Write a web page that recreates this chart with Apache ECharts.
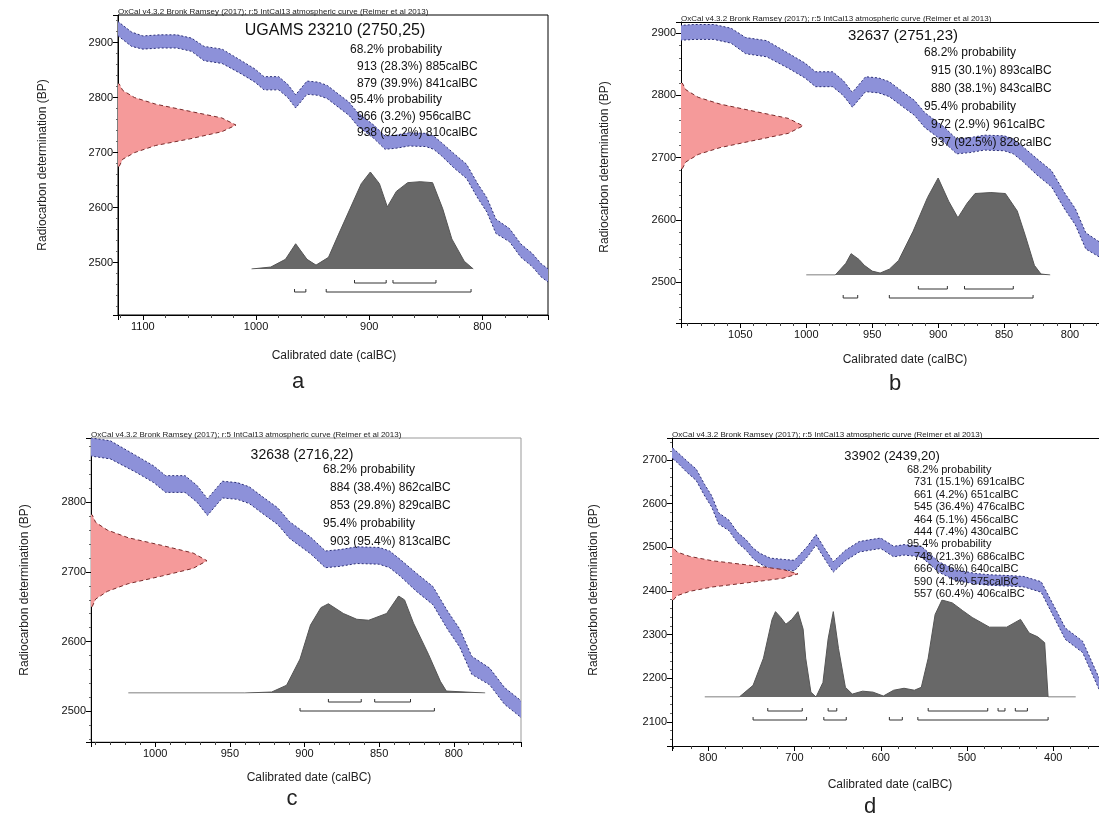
<!DOCTYPE html>
<html><head><meta charset="utf-8">
<script src="https://cdn.jsdelivr.net/npm/echarts@6/dist/echarts.min.js"></script>
<style>html,body{margin:0;padding:0;background:#fff}#c{width:1099px;height:819px}</style>
</head><body><div id="c"></div>
<script>
// ---------- shared calibration curve (IntCal13 band) ----------
const curveYears = [1125,1110,1100,1085,1070,1057,1046,1030,1013,1001,993,980,972,965,955,945,937,927,918,910,896,886,876,865,850,843,836,825,814,804,796,788,776,766,756,748,740,728,712,700,685,675,665,655,641,625,610,600,585,573,553,533,513,490,474,450,434,414,398,386,366,347,320,300];
const curveBP    = [2930,2906,2900,2902,2902,2896,2880,2875,2855,2840,2826,2826,2812,2793,2818,2816,2810,2794,2780,2760,2738,2718,2720,2724,2723,2718,2706,2685,2666,2630,2605,2566,2550,2522,2505,2486,2474,2463,2460,2458,2490,2517,2485,2455,2481,2501,2506,2509,2490,2494,2490,2455,2436,2428,2425,2423,2421,2409,2348,2302,2272,2188,2150,2130];
const curveSigma = [13,13,12,12,12,12,13,13,12,12,12,12,12,12,12,12,12,12,12,12,12,12,12,12,12,12,12,13,13,13,13,13,12,12,12,12,12,12,12,12,12,12,12,12,12,12,12,12,12,12,12,12,12,12,12,12,12,12,13,13,13,13,13,13];

// ---------- panel a ----------
const titleA = 'UGAMS 23210 (2750,25)';
const textA = ['68.2% probability','913 (28.3%) 885calBC','879 (39.9%) 841calBC','95.4% probability','966 (3.2%) 956calBC','938 (92.2%) 810calBC'];
const redBPA   = [2675,2688,2700,2713,2725,2738,2750,2763,2775,2788,2800,2813,2825];
const redDensA = [0.01,0.04,0.14,0.32,0.61,0.88,1,0.88,0.61,0.32,0.14,0.04,0.01];
const probYearsA = [1004,987,974,965,955,947,936,927,917,907,899,891,884,876,866,855,844,835,827,816,808];
const probA      = [0,2,10,26,10,4,12,36,62,88,100,88,64,80,89,90,89,62,31,8,0];
const range68A = [[913,885],[879,841]];
const range95A = [[966,956],[938,810]];

// ---------- panel b ----------
const titleB = '32637 (2751,23)';
const textB = ['68.2% probability','915 (30.1%) 893calBC','880 (38.1%) 843calBC','95.4% probability','972 (2.9%) 961calBC','937 (92.5%) 828calBC'];
const redBPB   = [2682,2693,2705,2716,2728,2739,2751,2763,2774,2786,2797,2809,2820];
const redDensB = [0.01,0.04,0.14,0.32,0.61,0.88,1,0.88,0.61,0.32,0.14,0.04,0.01];
const probYearsB = [1000,978,970,966,960,956,950,944,937,930,919,908,900,892,885,878,872,860,849,840,834,827,822,815];
const probB      = [0,0,12,22,16,10,4,2,6,15,45,80,100,76,59,74,84,85,84,66,41,10,1,0];
const range68B = [[915,893],[880,843]];
const range95B = [[972,961],[937,828]];

// ---------- panel c ----------
const titleC = '32638 (2716,22)';
const textC = ['68.2% probability','884 (38.4%) 862calBC','853 (29.8%) 829calBC','95.4% probability','903 (95.4%) 813calBC'];
const redBPC   = [2650,2661,2672,2683,2694,2705,2716,2727,2738,2749,2760,2771,2782];
const redDensC = [0.01,0.04,0.14,0.32,0.61,0.88,1,0.88,0.61,0.32,0.14,0.04,0.01];
const probYearsC = [1018,940,922,912,903,896,889,884,874,865,857,845,837,833,827,817,809,805,779];
const probC      = [0,0,1,8,35,70,88,92,82,76,75,82,100,96,72,40,12,2,0];
const range68C = [[884,862],[853,829]];
const range95C = [[903,813]];

// ---------- panel d ----------
const titleD = '33902 (2439,20)';
const textD = ['68.2% probability','731 (15.1%) 691calBC','661 (4.2%) 651calBC','545 (36.4%) 476calBC','464 (5.1%) 456calBC','444 (7.4%) 430calBC','95.4% probability','748 (21.3%) 686calBC','666 (9.6%) 640calBC','590 (4.1%) 575calBC','557 (60.4%) 406calBC'];
const redBPD   = [2379,2389,2399,2409,2419,2429,2439,2449,2459,2469,2479,2489,2499];
const redDensD = [0.01,0.04,0.14,0.32,0.61,0.88,1,0.88,0.61,0.32,0.14,0.04,0.01];
const probYearsD = [804,764,748,736,726,722,716,710,703,696,690,687,681,675,667,661,655,649,641,633,621,609,597,585,573,561,553,545,537,529,517,505,494,474,454,438,428,418,410,406,374];
const probD      = [0,0,12,40,80,88,82,75,80,88,70,40,5,0,15,60,88,50,10,3,6,5,1,7,9,7,10,40,85,100,97,89,82,72,72,80,66,62,56,0,0];
const range68D = [[731,691],[661,651],[545,476],[464,456],[444,430]];
const range95D = [[748,686],[666,640],[590,575],[557,406]];

const headerText = 'OxCal v4.3.2 Bronk Ramsey (2017); r:5 IntCal13 atmospheric curve (Reimer et al 2013)';
const yTitle = 'Radiocarbon determination (BP)';
const xTitle = 'Calibrated date (calBC)';
const panelLetters = ['a','b','c','d'];

// ---------- layout (positions/styles) ----------
const FONT = '"Liberation Sans", Arial, sans-serif';
const panels = [
  {L:118, T:15,  W:430, H:300, x:[742,1122], y:[2405,2950], base:269, redW:118, frame:'#000', box:true,
   title:titleA, tx:335, ty:31, tfs:16, text:textA, lx:350, ly:50, lh:16.6, lfs:12,
   red:[redBPA,redDensA], prob:[probYearsA,probA], r68:range68A, r95:range95A,
   ytx:43, yty:165, xtx:334, xty:356, let:[298,382], rowTop:274},
  {L:681, T:22,  W:418, H:301, x:[778,1095], y:[2434,2918], base:275, redW:122, frame:'#000', box:false,
   title:titleB, tx:903, ty:36, tfs:15, text:textB, lx:924, ly:53, lh:18, lfs:12,
   red:[redBPB,redDensB], prob:[probYearsB,probB], r68:range68B, r95:range95B,
   ytx:605, yty:167, xtx:905, xty:360, let:[895,384], rowTop:280},
  {L:91,  T:438, W:430, H:304, x:[755,1043], y:[2456,2892], base:693, redW:116, frame:'#999', box:true,
   title:titleC, tx:302, ty:455, tfs:14, text:textC, lx:323, ly:470, lh:18, lfs:12,
   red:[redBPC,redDensC], prob:[probYearsC,probC], r68:range68C, r95:range95C,
   ytx:25, yty:590, xtx:309, xty:778, let:[292,799], rowTop:693},
  {L:672, T:438, W:427, H:308, x:[347,842], y:[2045,2750], base:697, redW:126, frame:'#000', box:false,
   title:titleD, tx:892, ty:456, tfs:13, text:textD, lx:907, ly:470, lh:12.4, lfs:11,
   red:[redBPD,redDensD], prob:[probYearsD,probD], r68:range68D, r95:range95D,
   ytx:594, yty:590, xtx:890, xty:785, let:[870,807], rowTop:702}
];

const grid=[], xAxis=[], yAxis=[], series=[], graphic=[];

function bandItem(params, api){
  const cs = params.coordSys;
  const up=[], lo=[];
  for (let k=0;k<curveYears.length;k++){
    up.push(api.coord([curveYears[k], curveBP[k]+curveSigma[k]]));
    lo.push(api.coord([curveYears[k], curveBP[k]-curveSigma[k]]));
  }
  const poly = up.concat(lo.slice().reverse());
  return {type:'group', clipPath:{type:'rect', shape:{x:cs.x, y:cs.y, width:cs.width, height:cs.height}}, children:[
    {type:'polygon', shape:{points:poly}, style:{fill:'#8d91d9', stroke:null}},
    {type:'polyline', shape:{points:up}, style:{stroke:'#2c3079', lineWidth:1, lineDash:[2,2], fill:null}},
    {type:'polyline', shape:{points:lo}, style:{stroke:'#2c3079', lineWidth:1, lineDash:[2,2], fill:null}}
  ]};
}
function makeRedItem(bp, dens){
  return function(params, api){
    const pts=[];
    for (let k=0;k<bp.length;k++) pts.push(api.coord([dens[k], bp[k]]));
    const poly = pts.concat([api.coord([0, bp[bp.length-1]]), api.coord([0, bp[0]])]);
    return {type:'group', children:[
      {type:'polygon', shape:{points:poly}, style:{fill:'#f59a9a', stroke:null}},
      {type:'polyline', shape:{points:pts}, style:{stroke:'#7a2a2a', lineWidth:1, lineDash:[4,3], fill:null}}
    ]};
  };
}
function rangeItem(params, api){
  const a = api.coord([api.value(0), api.value(2)]);
  const b = api.coord([api.value(1), api.value(2)]);
  const st = {stroke:'#333', lineWidth:1};
  return {type:'group', children:[
    {type:'line', shape:{x1:a[0],y1:a[1],x2:b[0],y2:b[1]}, style:st},
    {type:'line', shape:{x1:a[0],y1:a[1]-3,x2:a[0],y2:a[1]}, style:st},
    {type:'line', shape:{x1:b[0],y1:b[1]-3,x2:b[0],y2:b[1]}, style:st}
  ]};
}
const plain = v => String(Math.round(v));

panels.forEach((p,i)=>{
  const g0 = grid.length;
  grid.push({left:p.L, top:p.T, width:p.W, height:p.H, show:p.box, borderColor:p.frame, borderWidth:1, backgroundColor:'transparent'});
  grid.push({left:p.L, top:p.T, width:p.redW, height:p.H});
  grid.push({left:p.L, top:p.base-97, width:p.W, height:97});
  grid.push({left:p.L, top:p.rowTop, width:p.W, height:27});

  const lab = {fontSize:11, color:'#111', fontFamily:FONT, showMinLabel:false, showMaxLabel:false, formatter:plain};
  xAxis.push({type:'value', gridIndex:g0, inverse:true, min:p.x[0], max:p.x[1],
    axisLine:{show:true, onZero:false, lineStyle:{color:'#000', width:1}},
    axisTick:{show:true, length:5, lineStyle:{color:'#000'}},
    minorTick:{show:true, splitNumber:5, length:3, lineStyle:{color:'#444'}},
    splitLine:{show:false}, axisLabel:Object.assign({margin:6}, lab)});
  yAxis.push({type:'value', gridIndex:g0, min:p.y[0], max:p.y[1],
    axisLine:{show:true, onZero:false, lineStyle:{color:'#000', width:1}},
    axisTick:{show:true, length:5, lineStyle:{color:'#000'}},
    minorTick:{show:true, splitNumber:5, length:2, lineStyle:{color:'#666'}},
    splitLine:{show:false}, axisLabel:Object.assign({margin:5}, lab)});
  xAxis.push({type:'value', gridIndex:g0+1, min:0, max:1, show:false});
  yAxis.push({type:'value', gridIndex:g0+1, min:p.y[0], max:p.y[1], show:false});
  xAxis.push({type:'value', gridIndex:g0+2, inverse:true, min:p.x[0], max:p.x[1], show:false});
  yAxis.push({type:'value', gridIndex:g0+2, min:0, max:100, show:false});
  xAxis.push({type:'value', gridIndex:g0+3, inverse:true, min:p.x[0], max:p.x[1], show:false});
  yAxis.push({type:'value', gridIndex:g0+3, inverse:true, min:0, max:3, show:false});
  if (!p.box) {
    // top frame line only (panel continues past the right edge of the picture)
    xAxis.push({type:'value', gridIndex:g0, position:'top', inverse:true, min:p.x[0], max:p.x[1],
      axisLine:{show:true, onZero:false, lineStyle:{color:'#000', width:1}},
      axisTick:{show:false}, axisLabel:{show:false}, splitLine:{show:false}});
  }
  const xi = (k)=> (p.box ? g0 + k : g0 + k); // indices computed below
});

// Build series after axes so axis indices are explicit
let xIdx = 0, yIdx = 0;
panels.forEach((p,i)=>{
  const g0 = i*4;
  const xMain = xIdx, xRed = xIdx+1, xProb = xIdx+2, xRange = xIdx+3;
  const yMain = yIdx, yRed = yIdx+1, yProb = yIdx+2, yRange = yIdx+3;
  xIdx += p.box ? 4 : 5; yIdx += 4;

  series.push({type:'custom', xAxisIndex:xMain, yAxisIndex:yMain, renderItem:bandItem, clip:true, silent:true,
    data:[[ (p.x[0]+p.x[1])/2, (p.y[0]+p.y[1])/2 ]], z:2});
  series.push({type:'custom', xAxisIndex:xRed, yAxisIndex:yRed, renderItem:makeRedItem(p.red[0], p.red[1]), silent:true,
    data:[[0.5, p.red[0][6]]], z:3});
  series.push({type:'line', xAxisIndex:xProb, yAxisIndex:yProb, symbol:'none', silent:true, z:4,
    data:p.prob[0].map((yr,k)=>[yr, p.prob[1][k]]),
    lineStyle:{color:'#555', width:1}, areaStyle:{color:'#686868', opacity:1}});
  const rdata = p.r68.map(r=>[r[0], r[1], 1]).concat(p.r95.map(r=>[r[0], r[1], 2]));
  series.push({type:'custom', xAxisIndex:xRange, yAxisIndex:yRange, renderItem:rangeItem, silent:true, z:4,
    encode:{x:[0,1], y:2}, data:rdata});

  graphic.push({type:'text', x:p.L, y:p.T+1, style:{text:headerText, font:'8px '+FONT, fill:'#222', textAlign:'left', textVerticalAlign:'bottom'}, z:10});
  graphic.push({type:'text', x:p.tx, y:p.ty, style:{text:p.title, font:p.tfs+'px '+FONT, fill:'#111', textAlign:'center', textVerticalAlign:'middle'}, z:10});
  p.text.forEach((t,k)=>{
    const head = t.indexOf('probability')>=0;
    graphic.push({type:'text', x:p.lx + (head?0:7), y:p.ly + k*p.lh, style:{text:t, font:p.lfs+'px '+FONT, fill:'#111', textAlign:'left', textVerticalAlign:'middle'}, z:10});
  });
  graphic.push({type:'text', x:p.ytx, y:p.yty, rotation:Math.PI/2, style:{text:yTitle, font:'12px '+FONT, fill:'#222', textAlign:'center', textVerticalAlign:'middle'}, z:10});
  graphic.push({type:'text', x:p.xtx, y:p.xty, style:{text:xTitle, font:'12px '+FONT, fill:'#222', textAlign:'center', textVerticalAlign:'middle'}, z:10});
  graphic.push({type:'text', x:p.let[0], y:p.let[1], style:{text:panelLetters[i], font:'22px '+FONT, fill:'#222', textAlign:'center', textVerticalAlign:'middle'}, z:10});
});

const chart = echarts.init(document.getElementById('c'));
chart.setOption({animation:false, backgroundColor:'#fff', grid, xAxis, yAxis, series, graphic});
</script></body></html>
